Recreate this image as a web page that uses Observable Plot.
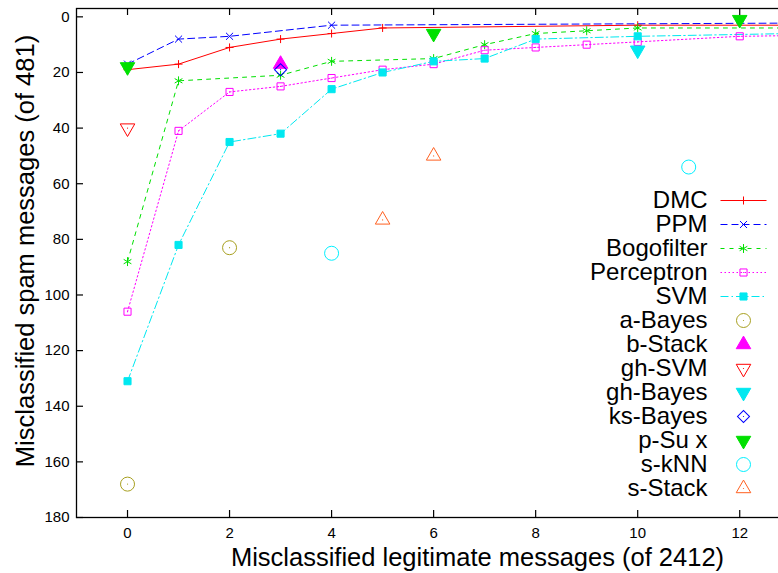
<!DOCTYPE html>
<html><head><meta charset="utf-8">
<script src="https://cdn.jsdelivr.net/npm/d3@7"></script>
<script src="https://cdn.jsdelivr.net/npm/@observablehq/plot@0.6"></script>
<style>
body{margin:0;background:#fff;}
#wrap{position:relative;width:778px;height:573px;overflow:hidden;font-family:"Liberation Sans",Arial,sans-serif;}
#wrap svg{position:absolute;}
</style></head><body><div id="wrap"></div>
<script>
// ---------- data ----------
const xTicks = [0, 2, 4, 6, 8, 10, 12];
const yTicks = [0, 20, 40, 60, 80, 100, 120, 140, 160, 180];

const dmcX = [0, 1, 2, 3, 4, 5, 10, 14];
const dmcY = [19, 17, 11, 8, 6, 4, 3, 3];
const ppmX = [0, 1, 2, 4, 16];
const ppmY = [17, 8, 7, 3, 2];
const bogoX = [0, 1, 3, 4, 6, 7, 8, 9, 10, 14];
const bogoY = [88, 23, 21, 16, 15, 10, 6, 5, 4, 4];
const percX = [0, 1, 2, 3, 4, 5, 6, 7, 8, 9, 10, 12, 16];
const percY = [106, 41, 27, 25, 22, 19, 17, 12, 11, 10, 9, 7, 6];
const svmX = [0, 1, 2, 3, 4, 5, 6, 7, 8, 10, 16];
const svmY = [131, 82, 45, 42, 26, 20, 16, 15, 8, 7, 5];

const aBayesX = [0, 2], aBayesY = [168, 83];
const bStackX = [3], bStackY = [17];
const ghSvmX = [0], ghSvmY = [40];
const ghBayesX = [10], ghBayesY = [12];
const ksBayesX = [3], ksBayesY = [19];
const pSuxX = [0, 6, 12], pSuxY = [18, 6, 1];
const sKnnX = [4, 11], sKnnY = [85, 54];
const sStackX = [5, 6], sStackY = [73, 50];

const lineNames = ["DMC", "PPM", "Bogofilter", "Perceptron", "SVM"];
const pointNames = ["a-Bayes", "b-Stack", "gh-SVM", "gh-Bayes", "ks-Bayes", "p-Su x", "s-kNN", "s-Stack"];

const seriesData = {
  "DMC": [dmcX, dmcY], "PPM": [ppmX, ppmY], "Bogofilter": [bogoX, bogoY],
  "Perceptron": [percX, percY], "SVM": [svmX, svmY],
  "a-Bayes": [aBayesX, aBayesY], "b-Stack": [bStackX, bStackY], "gh-SVM": [ghSvmX, ghSvmY],
  "gh-Bayes": [ghBayesX, ghBayesY], "ks-Bayes": [ksBayesX, ksBayesY], "p-Su x": [pSuxX, pSuxY],
  "s-kNN": [sKnnX, sKnnY], "s-Stack": [sStackX, sStackY]
};

// ---------- styles ----------
const st = {
  "DMC":        {c: "#ff0000", dash: null,        sym: "plus",     r: 2.7, fill: false, rot: 0, dot: false},
  "PPM":        {c: "#0000ff", dash: "7,4",       sym: "times",    r: 3.3, fill: false, rot: 0, dot: false},
  "Bogofilter": {c: "#00e000", dash: "4,5",       sym: "asterisk", r: 4.2, fill: false, rot: 0, dot: false},
  "Perceptron": {c: "#ff00ff", dash: "1.5,2.5",   sym: "square",   r: 4.0, fill: false, rot: 0, dot: true},
  "SVM":        {c: "#00e8f0", dash: "8,3,1.5,3", sym: "square",   r: 4.0, fill: true,  rot: 0, dot: false},
  "a-Bayes":    {c: "#a8a020", sym: "circle",   r: 7,   fill: false, rot: 0,   dot: true},
  "b-Stack":    {c: "#ff00ff", sym: "triangle", r: 5.4, fill: true,  rot: 0,   dot: false},
  "gh-SVM":     {c: "#ff0000", sym: "triangle", r: 5.4, fill: false, rot: 180, dot: true},
  "gh-Bayes":   {c: "#00e8f0", sym: "triangle", r: 5.4, fill: true,  rot: 180, dot: false},
  "ks-Bayes":   {c: "#0000ff", sym: "square",   r: 4.8, fill: false, rot: 45,  dot: true},
  "p-Su x":     {c: "#00e000", sym: "triangle", r: 5.4, fill: true,  rot: 180, dot: false},
  "s-kNN":      {c: "#00f0ff", sym: "circle",   r: 7,   fill: false, rot: 0,   dot: false},
  "s-Stack":    {c: "#ff6020", sym: "triangle", r: 5.4, fill: false, rot: 0,   dot: true}
};

function rows(name) {
  const [xs, ys] = seriesData[name];
  return xs.map((x, i) => ({x, y: ys[i]}));
}
function symbolMarks(data, s, extra = {}) {
  const base = {x: "x", y: "y", symbol: s.sym, r: s.r, rotate: s.rot, ...extra};
  const m = [Plot.dot(data, {...base, fill: s.fill ? s.c : "none", stroke: s.c, strokeWidth: 1})];
  if (s.dot) m.push(Plot.dot(data, {x: "x", y: "y", r: 0.6, fill: s.c, ...extra}));
  return m;
}

const font = "Liberation Sans, Arial, sans-serif";
const marks = [];
for (const n of lineNames) {
  const s = st[n];
  marks.push(Plot.line(rows(n), {x: "x", y: "y", stroke: s.c, strokeWidth: 1, strokeDasharray: s.dash, clip: true}));
}
for (const n of lineNames) marks.push(...symbolMarks(rows(n), st[n], {clip: true}));
for (const n of pointNames) marks.push(...symbolMarks(rows(n), st[n], {clip: true}));

const FW = 702, FH = 509, TK = 7; // frame size and tick length
const main = Plot.plot({
  width: 778, height: 573,
  marginLeft: 76, marginRight: 0, marginTop: 8, marginBottom: 56,
  style: {fontFamily: font, background: "transparent", color: "#000"},
  x: {domain: [-1, 12.76], axis: null},
  y: {domain: [-3, 180], reverse: true, axis: null},
  marks: [
    ...marks,
    Plot.frame({stroke: "#000", strokeWidth: 1.3, insetRight: -3}),
    Plot.tickX(xTicks, {x: d => d, insetTop: FH - TK, stroke: "#000", strokeWidth: 1.2}),
    Plot.tickX(xTicks, {x: d => d, insetBottom: FH - TK, stroke: "#000", strokeWidth: 1.2}),
    Plot.tickY(yTicks, {y: d => d, insetRight: FW - TK, stroke: "#000", strokeWidth: 1.2}),
    Plot.axisX(xTicks, {anchor: "bottom", tickSize: 0, tickPadding: 10, fontSize: 15, label: null}),
    Plot.axisY(yTicks, {anchor: "left", tickSize: 0, tickPadding: 7, fontSize: 15, label: null}),
    Plot.text(["Misclassified legitimate messages (of 2412)"], {frameAnchor: "bottom", lineAnchor: "middle", textAnchor: "middle", dy: 40, dx: 50, fontSize: 25.5}),
    Plot.text(["Misclassified spam messages (of 481)"], {frameAnchor: "left", textAnchor: "middle", lineAnchor: "middle", rotate: -90, dx: -51, dy: -12, fontSize: 25.5})
  ]
});
document.getElementById("wrap").appendChild(main);

// ---------- legend ----------
const legendNames = [...lineNames, ...pointNames];
const lmarks = [];
for (const n of lineNames) {
  const s = st[n];
  lmarks.push(Plot.link([n], {x1: () => 0, x2: () => 1, y1: d => d, y2: d => d, stroke: s.c, strokeWidth: 1, strokeDasharray: s.dash}));
}
for (const n of legendNames) {
  const s = st[n];
  lmarks.push(...symbolMarks([{x: 0.5, y: n}], s));
}
lmarks.push(Plot.text(legendNames, {x: () => 0, y: d => d, text: d => d, textAnchor: "end", dx: -13, fontSize: 24}));

const legend = Plot.plot({
  width: 218, height: 340, margin: 0,
  style: {fontFamily: font, background: "transparent", color: "#000", overflow: "visible"},
  x: {domain: [0, 1], range: [160, 206], axis: null},
  y: {type: "point", domain: legendNames, range: [19, 309], padding: 0, axis: null},
  marks: lmarks
});
legend.style.left = "560px";
legend.style.top = "180px";
document.getElementById("wrap").appendChild(legend);
</script>
</body></html>
